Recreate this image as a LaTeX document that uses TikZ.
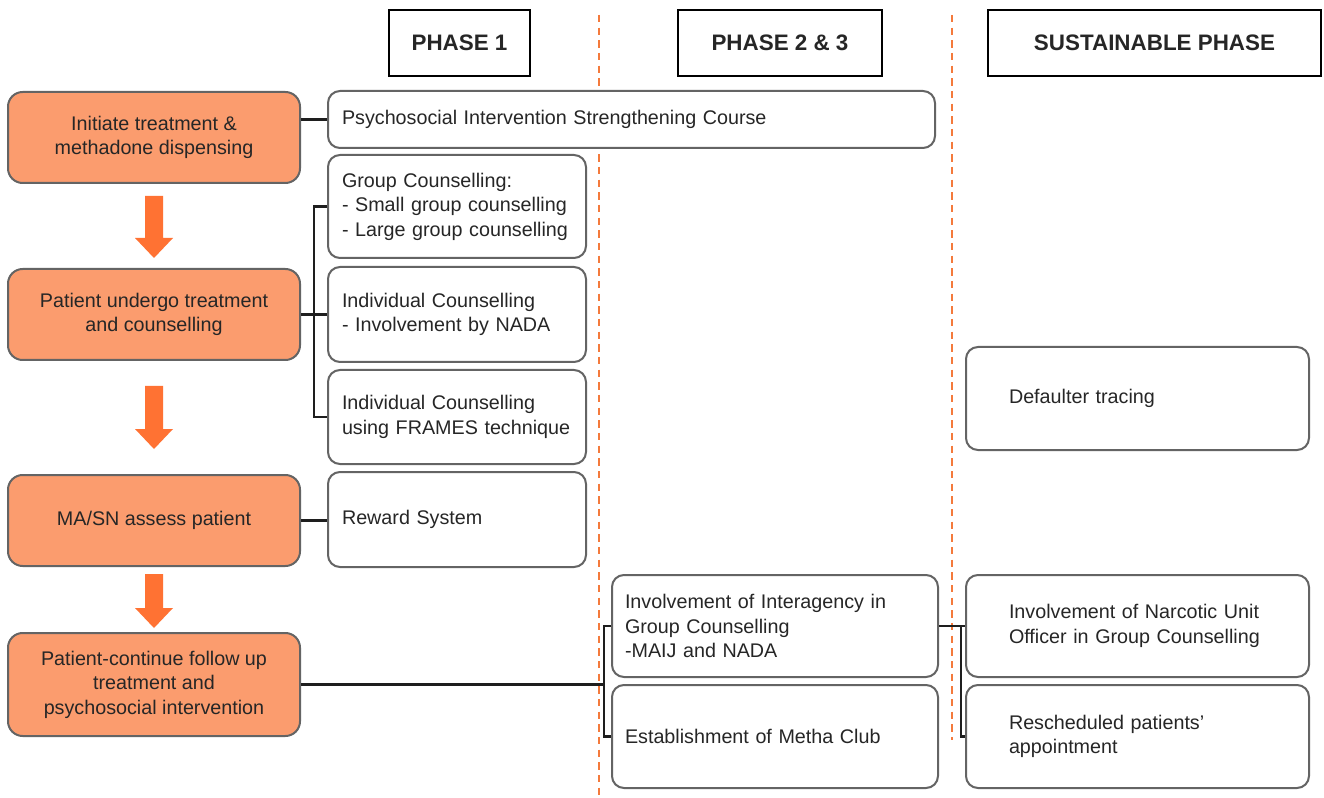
\documentclass[tikz,border=0pt]{standalone}
\usepackage{fontspec}
\setmainfont{Liberation Sans}
\usetikzlibrary{calc}
\definecolor{orfill}{HTML}{FB9C6E}
\definecolor{orarrow}{HTML}{FF7233}
\definecolor{ordash}{HTML}{F47A3C}
\definecolor{bordergray}{HTML}{646464}
\definecolor{txt}{HTML}{262626}
\definecolor{connc}{HTML}{1E1E1E}
\newcommand\mybox[7]{\node[#1, minimum width={(#5-#3)*0.75pt}, minimum height={(#6-#4)*0.75pt}] (#2) at ({(#3+#5)/2},{(#4+#6)/2}) {#7};}
\newcommand\fatarrow[3]{\fill[orarrow] ($(#1.south)+(-9,#2)$) -- ++(18,0) -- ++(0,#3-20) -- ++(10,0) -- ++(-19,20) -- ++(-19,-20) -- ++(10,0) -- cycle;}
\tikzset{
  basebox/.style={rectangle, rounded corners=9pt, draw=bordergray, line width=1.5pt, text=txt, font=\fontsize{14.8}{18.4}\selectfont, inner ysep=2pt},
  orbox/.style={basebox, fill=orfill, align=center, rounded corners=11pt},
  p1box/.style={basebox, fill=white, align=left, inner xsep=10.5pt, text width=172.5pt},
  psybox/.style={basebox, fill=white, align=left, inner xsep=10.5pt, text width=434.25pt},
  p2box/.style={basebox, fill=white, align=left, inner xsep=9.75pt, text width=225pt},
  susbox/.style={basebox, fill=white, align=left, inner xsep=32.25pt, text width=192.75pt},
  header/.style={rectangle, draw=black, line width=1.5pt, fill=white, font=\fontsize{16.8}{19}\selectfont\bfseries, text=txt},
  connector/.style={draw=connc, line width=1.6pt},
  divider/.style={draw=ordash, line width=1.6pt, dash pattern=on 5.5pt off 4pt}
}
\begin{document}
\begin{tikzpicture}[x=0.75pt,y=-0.75pt]
\useasboundingbox (0,0) rectangle (1324,798);
\fill[white] (0,0) rectangle (1324,798);
% dividers
\draw[divider] (599,15) -- (599,798);
\draw[divider] (952,15) -- (952,740);
% headers
\mybox{header}{h1}{389}{10}{530}{76}{PHASE 1}
\mybox{header}{h2}{678}{10}{882}{76}{PHASE 2 \& 3}
\mybox{header}{h3}{988}{10}{1321}{76}{SUSTAINABLE PHASE}
% left flow
\mybox{orbox}{o1}{8}{92}{300}{183}{Initiate treatment \&\\methadone dispensing}
\mybox{orbox}{o2}{8}{269}{300}{360}{Patient undergo treatment\\and counselling}
\mybox{orbox}{o3}{8}{475}{300}{566}{MA/SN assess patient}
\mybox{orbox}{o4}{8}{633}{300}{736}{Patient-continue follow up\\treatment and\\psychosocial intervention}
\fatarrow{o1}{12}{62}
\fatarrow{o2}{25}{63}
\fatarrow{o3}{7}{54}
% phase 1
\mybox{psybox}{psy}{328}{91}{935}{148}{Psychosocial Intervention Strengthening Course}
\mybox{p1box}{grp}{328}{155}{586}{258}{Group Counselling:\\- Small group counselling\\- Large group counselling}
\mybox{p1box}{ind}{328}{267}{586}{362}{Individual Counselling\\- Involvement by NADA}
\mybox{p1box}{frm}{328}{370}{586}{464}{Individual Counselling\\using FRAMES technique}
\mybox{p1box}{rew}{328}{472}{586}{567}{Reward System}
% phase 2 & 3
\mybox{p2box}{ia}{612}{575}{938}{677}{Involvement of Interagency in\\Group Counselling\\-MAIJ and NADA}
\mybox{p2box}{mc}{612}{685}{938}{788}{Establishment of Metha Club}
% sustainable
\mybox{susbox}{df}{966}{347}{1309}{450}{Defaulter tracing}
\mybox{susbox}{nar}{966}{575}{1309}{677}{Involvement of Narcotic Unit\\Officer in Group Counselling}
\mybox{susbox}{res}{966}{685}{1309}{788}{Rescheduled patients’\\appointment}
% connectors
\draw[connector] (o1.east |- psy.west) -- (psy.west);
\coordinate (b1) at ($(o2.east)!0.5!(ind.west)$);
\draw[connector] (o2.east) -- (ind.west);
\draw[connector] (grp.west) -| (b1) |- (frm.west);
\draw[connector] (o3.east) -- (o3.east -| rew.west);
\coordinate (b2) at ($(ia.west |- o4.east)+(-7,0)$);
\draw[connector] (o4.east) -- (b2);
\draw[connector] (ia.west) -| (b2) |- (mc.west);
\coordinate (b3) at ($(ia.east)!0.857!(nar.west)$);
\draw[connector] (ia.east) -- (nar.west);
\draw[connector] (b3) |- (res.west);
\end{tikzpicture}
\end{document}
